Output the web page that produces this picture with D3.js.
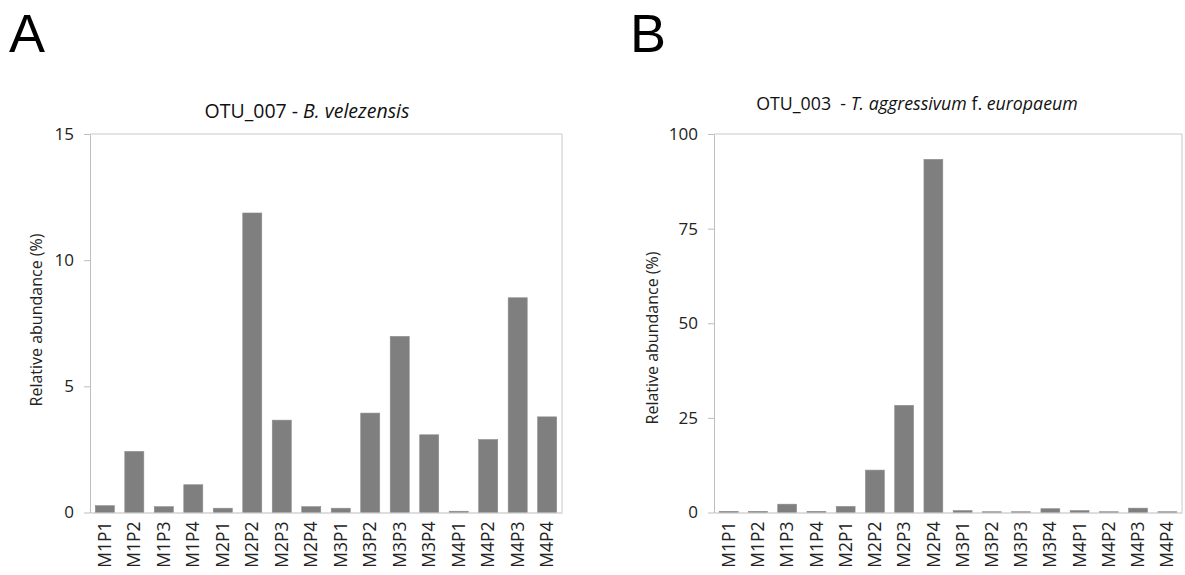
<!DOCTYPE html>
<html><head><meta charset="utf-8">
<script src="https://cdn.jsdelivr.net/npm/d3@7"></script>
<style>body{margin:0;background:#fff;} svg{display:block;font-family:"Open Sans",Lato,sans-serif;} text{white-space:pre;}</style>
</head><body>
<svg id="c" width="1185" height="575"></svg>
<script>
const categories = ["M1P1","M1P2","M1P3","M1P4","M2P1","M2P2","M2P3","M2P4","M3P1","M3P2","M3P3","M3P4","M4P1","M4P2","M4P3","M4P4"];
const valuesA = [0.27,2.42,0.23,1.10,0.17,11.87,3.66,0.23,0.17,3.94,6.98,3.08,0.05,2.89,8.51,3.79];
const valuesB = [0.3,0.3,2.2,0.3,1.6,11.2,28.3,93.3,0.5,0.2,0.2,1.0,0.5,0.2,1.15,0.2];
const ticksA = [0,5,10,15];
const ticksB = [0,25,50,75,100];

const svg = d3.select("#c");
const FONT = "'Open Sans',Lato,sans-serif";

function panel(o){
  const g = svg.append("g");
  const x = d3.scaleBand().domain(categories).range([o.left,o.right]).paddingInner(0.355).paddingOuter(0.18);
  const y = d3.scaleLinear().domain([0,o.max]).range([o.bottom,o.top]);
  g.append("line").attr("x1",o.left).attr("x2",o.right).attr("y1",o.top).attr("y2",o.top).attr("stroke","#c8c8c8");
  g.append("line").attr("x1",o.right).attr("x2",o.right).attr("y1",o.top).attr("y2",o.bottom).attr("stroke","#c8c8c8");
  g.selectAll("rect.bar").data(o.values).enter().append("rect")
    .attr("x",(d,i)=>x(categories[i])).attr("width",x.bandwidth())
    .attr("y",d=>y(d)).attr("height",d=>o.bottom-y(d))
    .attr("fill","#7f7f7f").attr("stroke","#8c8c8c").attr("stroke-width",0.6);
  const ya = g.append("g").attr("transform",`translate(${o.left},0)`)
    .call(d3.axisLeft(y).tickValues(o.ticks).tickSize(6).tickPadding(10).tickSizeOuter(0));
  ya.select(".domain").attr("stroke","#bdbdbd");
  ya.selectAll(".tick line").attr("stroke","#bdbdbd");
  ya.selectAll(".tick text").attr("font-size",17).attr("fill","#222").attr("font-family",FONT);
  const xa = g.append("g").attr("transform",`translate(0,${o.bottom})`)
    .call(d3.axisBottom(x).tickSize(0).tickPadding(0).tickSizeOuter(0));
  xa.select(".domain").attr("stroke","#bdbdbd");
  xa.selectAll(".tick text").attr("font-size",17.5).attr("fill","#222").attr("font-family",FONT)
    .attr("text-anchor","end").attr("dy","0.35em").attr("transform","translate(0,9) rotate(-90)").attr("x",0).attr("y",0);
  g.append("text").attr("transform",`translate(${o.ylx},${o.yly}) rotate(-90)`)
    .attr("text-anchor","middle").attr("font-size",16).attr("fill","#222").text("Relative abundance (%)");
  const t = g.append("text").attr("x",o.tx).attr("y",o.ty).attr("text-anchor","middle").attr("font-size",o.tsize).attr("fill","#111");
  o.title.forEach(p=>t.append("tspan").attr("font-style",p[1]?"italic":"normal").text(p[0]));
  g.append("text").attr("x",o.lx).attr("y",51.5).attr("font-size",54).attr("font-family","'Liberation Sans',Arial,sans-serif").attr("fill","#000").text(o.letter);
}

panel({left:90,right:562,top:134,bottom:512.5,max:15,values:valuesA,ticks:ticksA,
  ylx:42,yly:320,tx:307,ty:118,tsize:19.5,lx:9,letter:"A",
  title:[["OTU_007 - ",false],["B. velezensis",true]]});
panel({left:714,right:1182,top:134,bottom:512.5,max:100,values:valuesB,ticks:ticksB,
  ylx:658,yly:338,tx:917,ty:110,tsize:17.8,lx:630,letter:"B",
  title:[["OTU_003  - ",false],["T. aggressivum",true],[" f. ",false],["europaeum",true]]});
</script>
</body></html>
